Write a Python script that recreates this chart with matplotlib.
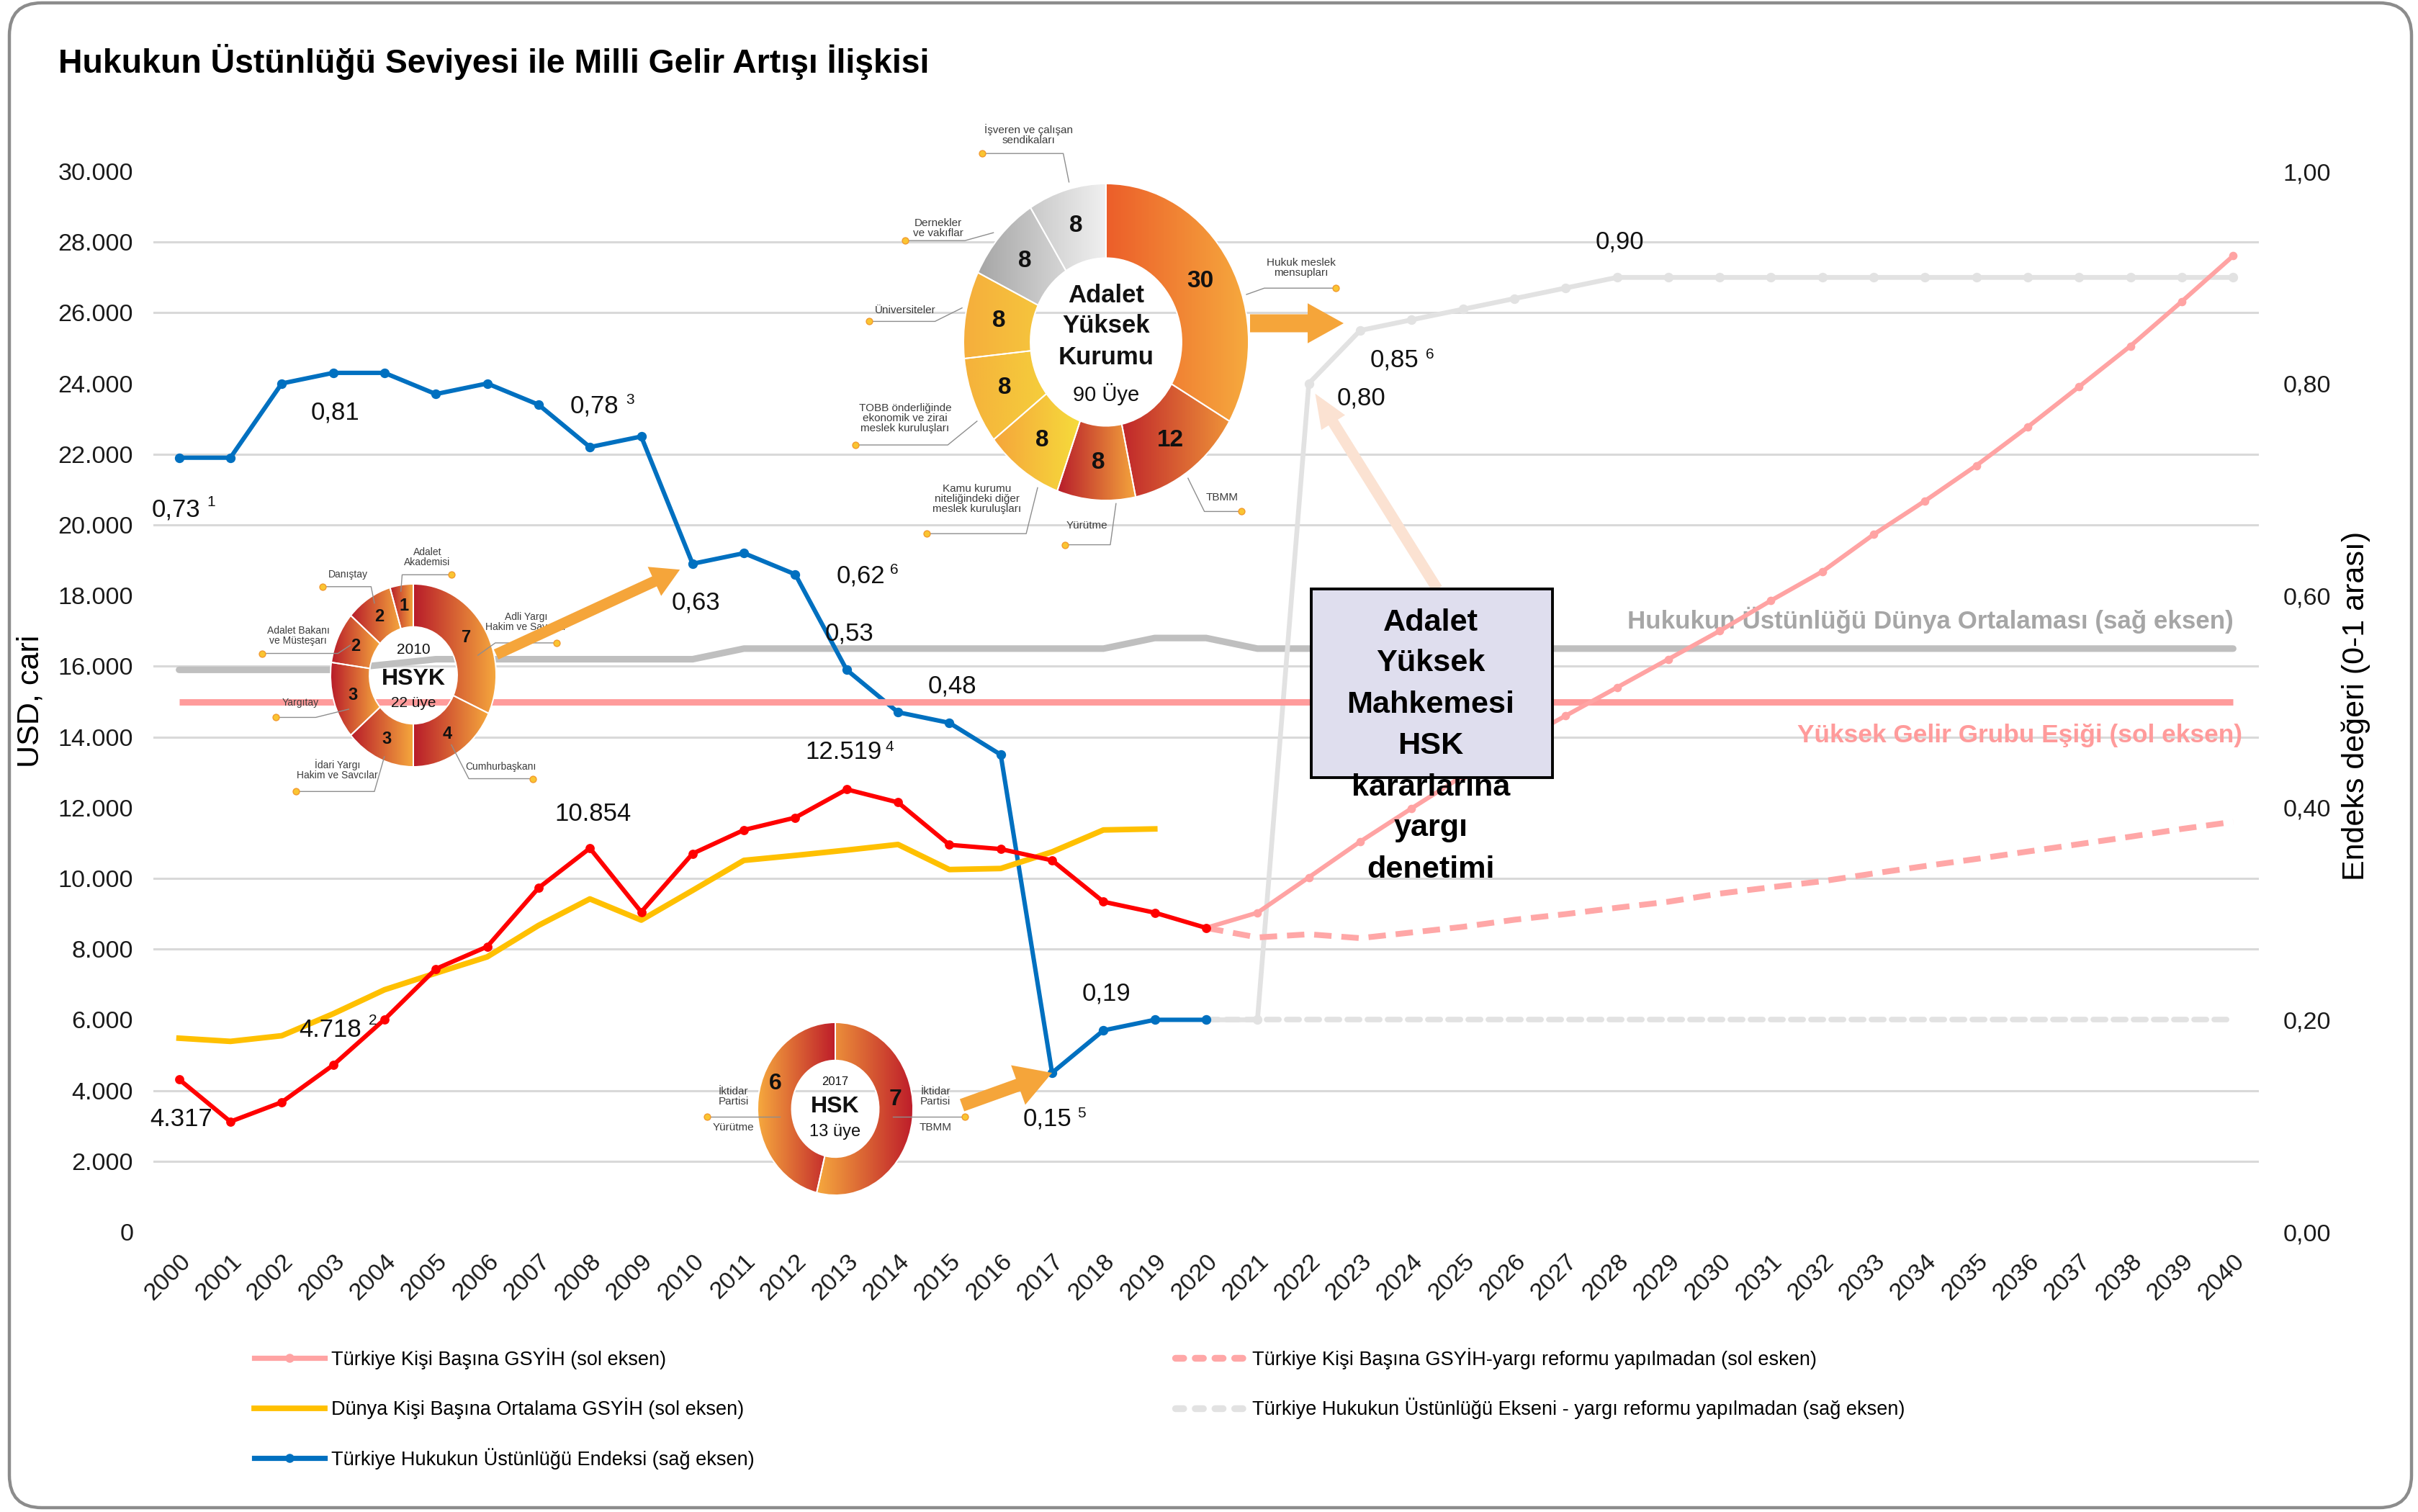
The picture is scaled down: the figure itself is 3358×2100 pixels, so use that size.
import numpy as np
import matplotlib
matplotlib.use("Agg")
import matplotlib.pyplot as plt
from matplotlib import font_manager
from matplotlib.colors import LinearSegmentedColormap
from matplotlib.lines import Line2D
from matplotlib.patches import Rectangle, FancyBboxPatch, FancyArrowPatch
from matplotlib.transforms import IdentityTransform

W, H, DPI = 3358, 2100, 200

# dar font varsa başlık, kutu ve halka etiketleri için onu kullan
yuklu = {f.name for f in font_manager.fontManager.ttflist}
DAR = "Liberation Sans Narrow" if "Liberation Sans Narrow" in yuklu else "Liberation Sans"
K = 1.0 if DAR != "Liberation Sans" else 0.89   # dar font yoksa yazıları biraz küçült
plt.rcParams["font.family"] = ["Liberation Sans", "DejaVu Sans"]

# ---- veriler ----
yillar = list(range(2000, 2021))
turkiye_gsyih = [4317, 3120, 3670, 4718, 6010, 7440, 8070, 9730, 10854, 9050, 10700,
                 11370, 11720, 12519, 12150, 10950, 10830, 10510, 9340, 9030, 8600]
dunya_yillar = list(range(2000, 2020))
dunya_gsyih = [5480, 5390, 5550, 6170, 6850, 7320, 7780, 8670, 9420, 8820, 9660,
               10510, 10650, 10800, 10960, 10250, 10280, 10750, 11370, 11400]
hu_endeksi = [0.73, 0.73, 0.80, 0.81, 0.81, 0.79, 0.80, 0.78, 0.74, 0.75, 0.63,
              0.64, 0.62, 0.53, 0.49, 0.48, 0.45, 0.15, 0.19, 0.20, 0.20]

tahmin_yillar = list(range(2020, 2041))
gsyih_reformlu = [8600, 9030, 10030, 11040, 11980, 12900, 13800, 14600, 15400, 16200, 17000,
                  17860, 18680, 19730, 20680, 21680, 22770, 23910, 25060, 26320, 27610]
gsyih_reformsuz = [8600, 8330, 8420, 8310, 8470, 8630, 8830, 8990, 9170, 9340, 9570,
                   9750, 9920, 10140, 10350, 10550, 10760, 10970, 11180, 11400, 11600]
hu_reformlu = [0.20, 0.20, 0.80, 0.85, 0.86, 0.87, 0.88, 0.89, 0.90, 0.90, 0.90,
               0.90, 0.90, 0.90, 0.90, 0.90, 0.90, 0.90, 0.90, 0.90, 0.90]
hu_reformsuz = [0.20, 0.20, 0.20, 0.20, 0.20, 0.20, 0.20, 0.20, 0.20, 0.20, 0.20,
                0.20, 0.20, 0.20, 0.20, 0.20, 0.20, 0.20, 0.20, 0.20, 0.20]

tum_yillar = list(range(2000, 2041))
dunya_hu_ort = [0.53, 0.53, 0.53, 0.53, 0.535, 0.54, 0.54, 0.54, 0.54, 0.54, 0.54,
                0.55, 0.55, 0.55, 0.55, 0.55, 0.55, 0.55, 0.55, 0.56, 0.56,
                0.55, 0.55, 0.55, 0.55, 0.55, 0.55, 0.55, 0.55, 0.55, 0.55,
                0.55, 0.55, 0.55, 0.55, 0.55, 0.55, 0.55, 0.55, 0.55, 0.55]
yuksek_gelir_esigi = 15000

sol_ticks = list(range(0, 30001, 2000))
sag_ticks = [0.0, 0.2, 0.4, 0.6, 0.8, 1.0]

# halka grafik verileri
ayk_degerler = [30, 12, 8, 8, 8, 8, 8, 8]
ayk_etiketler = ["Hukuk meslek\nmensupları", "TBMM", "Yürütme",
                 "Kamu kurumu\nniteliğindeki diğer\nmeslek kuruluşları",
                 "TOBB önderliğinde\nekonomik ve zirai\nmeslek kuruluşları",
                 "Üniversiteler", "Dernekler\nve vakıflar", "İşveren ve çalışan\nsendikaları"]
hsyk_degerler = [7, 4, 3, 3, 2, 2, 1]
hsyk_etiketler = ["Adli Yargı\nHakim ve Savcılar", "Cumhurbaşkanı", "İdari Yargı\nHakim ve Savcılar",
                  "Yargıtay", "Adalet Bakanı\nve Müsteşarı", "Danıştay", "Adalet\nAkademisi"]
hsk_degerler = [7, 6]


def fx(x):
    return x / W


def fy(y):
    return 1 - y / H


def tr_sayi(v):
    return f"{v:,}".replace(",", ".")


def tr_endeks(v):
    return f"{v:.2f}".replace(".", ",")


fig = plt.figure(figsize=(W / DPI, H / DPI), dpi=DPI)

# dış çerçeve
fig.add_artist(FancyBboxPatch((13, 6), W - 22, H - 10, boxstyle="round,pad=0,rounding_size=45",
                              transform=IdentityTransform(), fc="white", ec="#8C8C8C", lw=1.6, zorder=-5))

ax = fig.add_axes([fx(213), fy(1711), (3137 - 213) / W, (1711 - 238) / H])
ax2 = ax.twinx()
ax.set_zorder(2)
ax2.set_zorder(1)
ax.patch.set_visible(False)
ax2.patch.set_visible(False)

# sağ eksen serileri
ax2.plot(tum_yillar, dunya_hu_ort, color="#BFBFBF", lw=3.3, solid_capstyle="round", zorder=2)
ax2.plot(tahmin_yillar, hu_reformsuz, color="#E2E2E2", lw=2.8, ls=(0, (2.2, 1.4)),
         dash_capstyle="round", zorder=2)
ax2.plot(tahmin_yillar, hu_reformlu, color="#E2E2E2", lw=2.4, marker="o", ms=3.8, zorder=3)
ax2.plot(yillar, hu_endeksi, color="#0070C0", lw=2.2, marker="o", ms=3.8, zorder=4)

# sol eksen serileri
ax.hlines(yuksek_gelir_esigi, tum_yillar[0], tum_yillar[-1], color="#FF9B9B", lw=3.2, zorder=2)
ax.plot(dunya_yillar, dunya_gsyih, color="#FFC000", lw=2.8, zorder=3)
ax.plot(tahmin_yillar, gsyih_reformsuz, color="#FFA7A7", lw=2.9, ls=(0, (3, 1.7)), zorder=3)
ax.plot(tahmin_yillar, gsyih_reformlu, color="#FFA3A3", lw=2.2, marker="o", ms=3.2, zorder=3)
ax.plot(yillar, turkiye_gsyih, color="#FF0000", lw=2.2, marker="o", ms=3.6, zorder=4)

ax.set_xlim(1999.5, 2040.5)
ax.set_ylim(0, 30000)
ax2.set_ylim(0, 1)
ax.set_xticks(tum_yillar)
ax.set_xticklabels([str(y) for y in tum_yillar], rotation=45, ha="right", rotation_mode="anchor")
ax.set_yticks(sol_ticks)
ax.set_yticklabels([tr_sayi(v) for v in sol_ticks])
ax2.set_yticks(sag_ticks)
ax2.set_yticklabels([tr_endeks(v) for v in sag_ticks])
ax2.set_yticks([v / sol_ticks[-1] for v in sol_ticks[:-1]], minor=True)
ax2.grid(which="minor", axis="y", color="#D9D9D9", lw=1.1)
ax.tick_params(axis="y", length=0, labelsize=12.3, pad=10, colors="#1a1a1a")
ax.tick_params(axis="x", length=0, labelsize=12.3, pad=9, colors="#1a1a1a")
ax2.tick_params(axis="y", which="both", length=0, labelsize=12.3, pad=12, colors="#1a1a1a")
for a in (ax, ax2):
    for s in a.spines.values():
        s.set_visible(False)

fig.text(fx(43), fy(974), "USD, cari", rotation=90, ha="center", va="center", fontsize=15.5)
fig.text(fx(3272), fy(980), "Endeks değeri (0-1 arası)", rotation=90, ha="center", va="center",
         fontsize=15.5)
fig.text(fx(81), fy(86), "Hukukun Üstünlüğü Seviyesi ile Milli Gelir Artışı İlişkisi",
         ha="left", va="center", fontsize=20 if DAR != "Liberation Sans" else 16.7,
         fontweight="bold", family=DAR)

# veri etiketleri: (x, y, dx, dy, üst simge, sdx, sdy) -- kaydırmalar punto
sol_etiketler = [
    (yillar[0], turkiye_gsyih[0], 1, -19.8, "", 0, 0),
    (yillar[3], turkiye_gsyih[3], -1.5, 17.7, "2", 19.8, 22.4),
    (yillar[8], turkiye_gsyih[8], 1.4, 17.3, "", 0, 0),
    (yillar[13], turkiye_gsyih[13], -1.4, 18.5, "4", 21.6, 21),
]
sag_etiketler = [
    (yillar[0], hu_endeksi[0], -1.4, -26, "1", 16.2, -22.4),
    (yillar[3], hu_endeksi[3], 1, -19.8, "", 0, 0),
    (yillar[7], hu_endeksi[7], 27.9, -0.7, "3", 45.9, 2.2),
    (yillar[10], hu_endeksi[10], 1.5, -19.4, "", 0, 0),
    (yillar[12], hu_endeksi[12], 32.6, -0.8, "6", 49.5, 2.4),
    (yillar[13], hu_endeksi[13], 1.5, 18.1, "", 0, 0),
    (yillar[15], hu_endeksi[15], 1.6, 18.4, "", 0, 0),
    (yillar[17], hu_endeksi[17], -2.3, -23, "5", 14.6, -20.5),
    (yillar[18], hu_endeksi[18], 1.5, 18.4, "", 0, 0),
    (tahmin_yillar[2], hu_reformlu[2], 26.3, -7.3, "", 0, 0),
    (tahmin_yillar[3], hu_reformlu[3], 17, -14.8, "6", 34.7, -11.9),
    (tahmin_yillar[8], hu_reformlu[8], 1.3, 17.7, "", 0, 0),
]
for x, y, dx, dy, u, sdx, sdy in sol_etiketler:
    ax.annotate(tr_sayi(y), (x, y), xytext=(dx, dy), textcoords="offset points", ha="center",
                va="center", fontsize=12.5, color="#111111", zorder=6)
    if u:
        ax.annotate(u, (x, y), xytext=(sdx, sdy), textcoords="offset points", ha="center",
                    va="center", fontsize=7.5, color="#111111", zorder=6)
for x, y, dx, dy, u, sdx, sdy in sag_etiketler:
    ax2.annotate(tr_endeks(y), (x, y), xytext=(dx, dy), textcoords="offset points", ha="center",
                 va="center", fontsize=12.5, color="#111111", zorder=6)
    if u:
        ax2.annotate(u, (x, y), xytext=(sdx, sdy), textcoords="offset points", ha="center",
                     va="center", fontsize=7.5, color="#111111", zorder=6)

# sağdaki seri açıklamaları
ax2.annotate("Hukukun Üstünlüğü Dünya Ortalaması (sağ eksen)", (tum_yillar[-1], dunya_hu_ort[-1]),
             xytext=(0, 14.4), textcoords="offset points", ha="right", va="center",
             fontsize=14 * K * 1.01, fontweight="bold", family=DAR, color="#A6A6A6")
ax.annotate("Yüksek Gelir Grubu Eşiği (sol eksen)", (tum_yillar[-1], yuksek_gelir_esigi),
            xytext=(4.7, -16.9), textcoords="offset points", ha="right", va="center",
            fontsize=14 * K * 1.02, fontweight="bold", family=DAR, color="#FF9B9B")


# ---- halka grafikler ----
def halka(cx, cy, rx, ry, degerler, renkler, ic, sayi_boy, kaydir=0.0):
    a = fig.add_axes([fx(cx - 2 * rx), fy(cy + 2 * ry), 4 * rx / W, 4 * ry / H])
    a.set_zorder(3)
    dilimler, _ = a.pie(degerler, startangle=90, counterclock=False,
                        wedgeprops=dict(width=1 - ic, edgecolor="white", linewidth=0.7))
    gr = np.linspace(0, 1, 200).reshape(1, -1)
    for d, (c1, c2) in zip(dilimler, renkler):
        bb = d.get_path().get_extents()
        im = a.imshow(gr, cmap=LinearSegmentedColormap.from_list("g", [c1, c2]),
                      extent=[bb.x0, bb.x1, bb.y0, bb.y1], aspect="auto",
                      interpolation="bilinear", zorder=1)
        im.set_clip_path(d)
        d.set_facecolor("none")
        d.set_zorder(2)
    r = 1 - (1 - ic) / 2
    for d, v in zip(dilimler, degerler):
        t = np.deg2rad((d.theta1 + d.theta2) / 2)
        a.text(r * np.cos(t), r * np.sin(t) + kaydir, str(v), ha="center", va="center",
               fontsize=sayi_boy, fontweight="bold", family=DAR, color="#111111", zorder=5)
    return a


def halka_etiket(a, metin, tx, ty, yol, boy):
    a.text(tx, ty, metin, ha="center", va="center", fontsize=boy, family=DAR,
           color="#3C3C3C", linespacing=1.0, zorder=6)
    xs = [p[0] for p in yol]
    ys = [p[1] for p in yol]
    a.plot(xs, ys, color="#8E8E8E", lw=0.5, zorder=6)
    a.plot(xs[:1], ys[:1], "o", ms=3.2, mfc="#FAC531", mec="#F29A2E", mew=0.5, zorder=7)


def bitir(a):
    a.set_xlim(-2, 2)
    a.set_ylim(-2, 2)
    a.set_aspect("auto")
    a.axis("off")


ayk_renk = [("#EC5E2A", "#F6AA3E"), ("#C0272B", "#EE9239"), ("#B71C2B", "#F4A43C"),
            ("#F5A53B", "#F6DC3B"), ("#F5B13B", "#F5CE3C"), ("#F5AE3C", "#F6C53D"),
            ("#A6A6A6", "#D6D6D6"), ("#C9C9C9", "#F0F0F0")]
a1 = halka(1536, 475, 198, 220, ayk_degerler, ayk_renk, 0.53, 12)
ayk_yer = [((1.37, 0.47), [(1.61, 0.34), (1.11, 0.34), (0.985, 0.30)]),
           ((0.815, -0.98), [(0.95, -1.07), (0.69, -1.07), (0.575, -0.86)]),
           ((-0.135, -1.16), [(-0.29, -1.28), (0.03, -1.28), (0.07, -1.02)]),
           ((-0.905, -0.99), [(-1.26, -1.21), (-0.56, -1.21), (-0.48, -0.92)]),
           ((-1.41, -0.48), [(-1.76, -0.65), (-1.11, -0.65), (-0.905, -0.50)]),
           ((-1.41, 0.20), [(-1.66, 0.13), (-1.2, 0.13), (-1.01, 0.215)]),
           ((-1.175, 0.72), [(-1.41, 0.64), (-0.99, 0.64), (-0.79, 0.69)]),
           ((-0.545, 1.31), [(-0.867, 1.19), (-0.30, 1.19), (-0.26, 1.01)])]
for m, ((tx, ty), yol) in zip(ayk_etiketler, ayk_yer):
    halka_etiket(a1, m, tx, ty, yol, 5.5)
for m, v, b, w in [("Adalet", 0.295, 12.5, "bold"), ("Yüksek", 0.10, 12.5, "bold"),
                   ("Kurumu", -0.10, 12.5, "bold"), ("90 Üye", -0.33, 10.5, "normal")]:
    a1.text(0, v, m, ha="center", va="center", fontsize=b, fontweight=w, family=DAR, color="#111111")
bitir(a1)

hsyk_renk = [("#B81C2A", "#F5A73D")] * len(hsyk_degerler)
a2 = halka(574, 938, 115, 127, hsyk_degerler, hsyk_renk, 0.53, 8.5)
hsyk_yer = [((1.36, 0.58), [(1.73, 0.355), (0.99, 0.355), (0.78, 0.22)]),
            ((1.06, -1.0), [(1.44, -1.13), (0.67, -1.13), (0.46, -0.76)]),
            ((-0.92, -1.03), [(-1.42, -1.27), (-0.47, -1.27), (-0.35, -0.89)]),
            ((-1.36, -0.30), [(-1.66, -0.46), (-1.18, -0.46), (-0.78, -0.37)]),
            ((-1.39, 0.43), [(-1.83, 0.24), (-0.91, 0.24), (-0.76, 0.33)]),
            ((-0.79, 1.10), [(-1.10, 0.97), (-0.51, 0.97), (-0.47, 0.79)]),
            ((0.17, 1.29), [(0.46, 1.10), (-0.135, 1.10), (-0.15, 0.92)])]
for m, ((tx, ty), yol) in zip(hsyk_etiketler, hsyk_yer):
    halka_etiket(a2, m, tx, ty, yol, 5)
for m, v, b, w in [("2010", 0.276, 7.5, "normal"), ("HSYK", -0.04, 11.5, "bold"),
                   ("22 üye", -0.30, 7.5, "normal")]:
    a2.text(0, v, m, ha="center", va="center", fontsize=b, fontweight=w, family=DAR, color="#111111")
bitir(a2)

hsk_renk = [("#F6A93E", "#BE1D2A"), ("#F6A93E", "#BE1D2A")]
a3 = halka(1160, 1540, 108, 120, hsk_degerler, hsk_renk, 0.56, 11.5, kaydir=0.2)
for tx, ust, alt, yol in [(-1.31, "İktidar\nPartisi", "Yürütme", [(-1.65, -0.09), (-0.71, -0.09)]),
                          (1.29, "İktidar\nPartisi", "TBMM", [(1.67, -0.09), (0.74, -0.09)])]:
    halka_etiket(a3, ust, tx, 0.14, yol, 5.5)
    a3.text(tx, -0.22, alt, ha="center", va="center", fontsize=5.5, family=DAR, color="#3C3C3C")
for m, v, b, w in [("2017", 0.316, 6, "normal"), ("HSK", 0.025, 11.5, "bold"),
                   ("13 üye", -0.266, 8.5, "normal")]:
    a3.text(0, v, m, ha="center", va="center", fontsize=b, fontweight=w, family=DAR, color="#111111")
bitir(a3)


# ---- oklar ----
def ok(bas, uc, renk, kuyruk, gen, boy, kisalt=0):
    fig.add_artist(FancyArrowPatch(bas, uc, transform=IdentityTransform(),
                                   arrowstyle=f"simple,head_length={boy},head_width={gen},tail_width={kuyruk}",
                                   mutation_scale=1, shrinkA=0, shrinkB=kisalt, color=renk, lw=0,
                                   zorder=4))


def px(x, y):
    return (x, H - y)


ok(px(1736, 449), px(1866, 449), "#F5A53A", 9, 20, 18)
ok(px(689, 909), tuple(ax2.transData.transform((yillar[10], hu_endeksi[10]))), "#F5A53A", 5.5, 16, 14, 7)
ok(px(1336, 1535), tuple(ax2.transData.transform((yillar[17], hu_endeksi[17]))), "#F5A53A", 6.5, 21, 18)
ok(px(1996, 818), tuple(ax2.transData.transform((tahmin_yillar[2], hu_reformlu[2]))), "#FBE2D2", 5.5, 14, 17, 6)

# açıklama kutusu
fig.add_artist(Rectangle(px(1821, 1080), 335, 262, transform=IdentityTransform(),
                         fc="#DFDEEE", ec="black", lw=1.4, zorder=5))
kutu_satirlar = ["Adalet", "Yüksek", "Mahkemesi", "HSK", "kararlarına", "yargı", "denetimi"]
for satir, yy in zip(kutu_satirlar, [865, 921, 979, 1036, 1094, 1150, 1208]):
    fig.text(fx(1987), fy(yy), satir, ha="center", va="center", fontsize=17.5 * K, fontweight="bold",
             family=DAR, color="black", zorder=6)

# lejant
sol_h = [Line2D([], [], color="#FFA3A3", lw=2.6, marker="o", ms=3.5),
         Line2D([], [], color="#FFC000", lw=2.8),
         Line2D([], [], color="#0070C0", lw=2.6, marker="o", ms=3.5)]
sol_l = ["Türkiye Kişi Başına GSYİH (sol eksen)", "Dünya Kişi Başına Ortalama GSYİH (sol eksen)",
         "Türkiye Hukukun Üstünlüğü Endeksi (sağ eksen)"]
sag_h = [Line2D([], [], color="#FFA7A7", lw=3.4, ls=(0, (1.2, 1.7)), dash_capstyle="round"),
         Line2D([], [], color="#E2E2E2", lw=3.4, ls=(0, (1.2, 1.7)), dash_capstyle="round")]
sag_l = ["Türkiye Kişi Başına GSYİH-yargı reformu yapılmadan (sol esken)",
         "Türkiye Hukukun Üstünlüğü Ekseni - yargı reformu yapılmadan (sağ eksen)"]
for hh, ll, x0 in [(sol_h, sol_l, 353), (sag_h, sag_l, 1632)]:
    fig.legend(hh, ll, loc="upper left", bbox_to_anchor=(fx(x0), fy(1872)), frameon=False,
               prop={"family": DAR, "size": 11 * K}, handlelength=3.2 / K, handletextpad=0.35,
               labelspacing=1.45, borderaxespad=0, borderpad=0)

fig.savefig("out.png", dpi=DPI, facecolor="white")
